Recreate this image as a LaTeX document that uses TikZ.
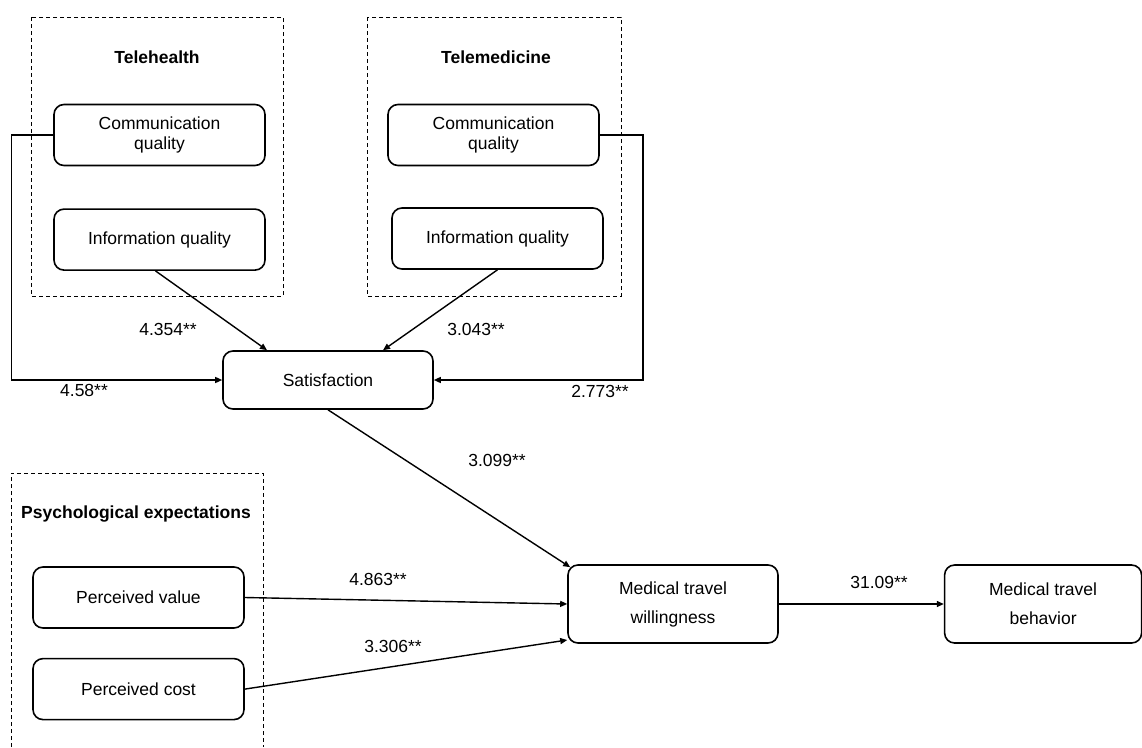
\documentclass[tikz,border=0pt]{standalone}
\usepackage{fontspec}
\setmainfont{Liberation Sans}
\usetikzlibrary{positioning,arrows.meta}
\tikzstyle{block} = [draw,line width=1.6pt,rounded corners=10pt,minimum width=211pt,minimum height=61pt,align=center,inner sep=0pt,font=\fontsize{17.5}{20}\selectfont]
\tikzstyle{tall} = [block,minimum height=78pt,font=\fontsize{17.5}{29}\selectfont]
\tikzstyle{group} = [draw,line width=0.9pt,dash pattern=on 4pt off 3pt]
\tikzstyle{heading} = [font=\fontsize{17.5}{21}\selectfont\bfseries]
\tikzstyle{coef} = [font=\fontsize{17.5}{21}\selectfont]
\tikzstyle{link} = [draw,line width=1.4pt,-{Triangle[length=7pt,width=6pt]}]

\begin{document}
\begin{tikzpicture}[x=1pt,y=-1pt]
           \useasboundingbox (0,0) rectangle (1142,747);
           % dashed groups
           \draw[group] (31,17) rectangle (283,296);
           \draw[group] (367,17) rectangle (621,296);
           \draw[group] (11,747) -- (11,473) -- (263,473) -- (263,747);
           % telehealth
           \node[heading] (thtitle) at (157,57) {Telehealth};
           \node[block] (thcomm) at (159.5,135) {Communication\\quality};
           \node[block] (thinfo) [below = 42pt of thcomm] {Information quality};
           % telemedicine
           \node[heading] (tmtitle) at (496,57) {Telemedicine};
           \node[block] (tmcomm) at (493.5,135) {Communication\\quality};
           \node[block] (tminfo) at (497.5,238.5) {Information quality};
           \node[block,minimum width=210pt,minimum height=58pt] (sat) at (328,380) {Satisfaction};
           % psychological expectations
           \node[heading] (pstitle) at (136,514) {Psychological expectations};
           \node[block] (pval) at (138.5,597.5) {Perceived value};
           \node[block] (pcost) [below = 29pt of pval] {Perceived cost};
           \node[tall,minimum width=210pt] (will) at (673,604) {Medical travel\\willingness};
           \node[tall,minimum width=197pt] (behav) [right = 165pt of will] {Medical travel\\behavior};
           % paths
           \draw[link] (thcomm.west) -- ++(-42,0) |- (sat.west);
           \draw[link] ([xshift=-4pt]thinfo.south) -- ([xshift=-61pt]sat.north);
           \draw[link] (tminfo.south) -- ([xshift=55pt]sat.north);
           \draw[link] (tmcomm.east) -- ++(43,0) |- (sat.east);
           \draw[link] (sat.south) -- ([shift={(3pt,-3pt)}]will.north west);
           \draw[link] (pval.east) -- (will.west);
           \draw[link] (pcost.east) -- ([yshift=-36pt]will.west);
           \draw[link] (will.east) -- (behav.west);
           % coefficients
           \node[coef] (c1) at (84,390) {4.58**};
           \node[coef] (c2) at (168,329) {4.354**};
           \node[coef] (c3) at (476,329) {3.043**};
           \node[coef] (c4) at (600,391) {2.773**};
           \node[coef] (c5) at (497,460) {3.099**};
           \node[coef] (c6) at (378,579) {4.863**};
           \node[coef] (c7) at (393,646) {3.306**};
           \node[coef] (c8) at (879,582) {31.09**};
        \end{tikzpicture}
\end{document}
